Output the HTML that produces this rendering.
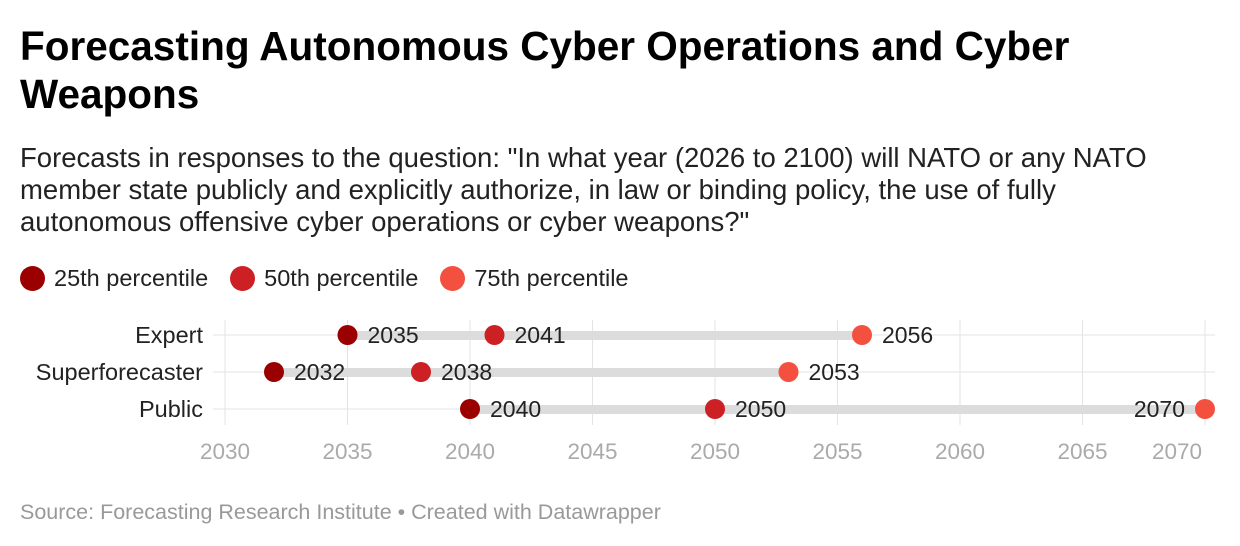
<!DOCTYPE html>
<html><head><meta charset="utf-8"><style>
body{margin:0;width:1240px;height:546px;background:#fff;font-family:"Liberation Sans",sans-serif;overflow:hidden;position:relative}
h1{position:absolute;left:20px;top:22px;margin:0;font-size:40.5px;line-height:48px;font-weight:bold;color:#000;width:1100px}
.sub{position:absolute;left:20px;top:142px;font-size:27.5px;line-height:32px;color:#222;white-space:nowrap}
.legend{position:absolute;left:20px;top:265px;font-size:23.5px;color:#222;display:flex;gap:22px}
.legend span{display:flex;align-items:center}
.legend i{display:inline-block;width:25px;height:25px;border-radius:50%;margin-right:9px}
.src{position:absolute;left:20px;top:500px;font-size:21.5px;color:#999}
svg{position:absolute;left:0;top:0}
</style></head><body>
<h1>Forecasting Autonomous Cyber Operations and Cyber Weapons</h1>
<div class="sub">Forecasts in responses to the question: "In what year (2026 to 2100) will NATO or any NATO<br>member state publicly and explicitly authorize, in law or binding policy, the use of fully<br>autonomous offensive cyber operations or cyber weapons?"</div>
<div class="legend">
<span><i style="background:#9a0000"></i>25th percentile</span>
<span><i style="background:#cc2024"></i>50th percentile</span>
<span><i style="background:#f4503f"></i>75th percentile</span>
</div>
<svg id="chart" width="1240" height="546"></svg>
<div class="src">Source: Forecasting Research Institute • Created with Datawrapper</div>
<script>
const categories=["Expert","Superforecaster","Public"];
const p25=[2035,2032,2040];
const p50=[2041,2038,2050];
const p75=[2056,2053,2070];
const ticks=[2030,2035,2040,2045,2050,2055,2060,2065,2070];
const NS="http://www.w3.org/2000/svg";
const svg=document.getElementById('chart');
const x=v=>225+(v-2030)*24.5;
const y=i=>335+i*37;
function mk(t,a,p){const e=document.createElementNS(NS,t);for(const k in a)e.setAttribute(k,a[k]);(p||svg).appendChild(e);return e;}
ticks.forEach((t,i)=>{
 const g=mk('line',{x1:x(t),x2:x(t),y1:320,y2:425,stroke:'#e3e3e3','stroke-width':1});
 
 
 const tx=mk('text',{x:i===ticks.length-1?x(t)-28:x(t),y:459,'text-anchor':'middle','font-size':22.5,fill:'#aaa','font-family':'Liberation Sans'});
 tx.textContent=t;
 
 
});
categories.forEach((c,i)=>{
 const yy=y(i);
 const h=mk('line',{x1:213,x2:1215,y1:yy,y2:yy,stroke:'#e3e3e3','stroke-width':1});
 
 
 const lb=mk('text',{x:203,y:yy+8,'text-anchor':'end','font-size':23.5,fill:'#222','font-family':'Liberation Sans'});
 lb.textContent=c;
 
 
 const bar=mk('rect',{x:x(p25[i]),y:yy-4,width:x(p75[i])-x(p25[i]),height:9,fill:'#dcdcdc'});
 
 
 [[p25,'#9a0000'],[p50,'#cc2024'],[p75,'#f4503f']].forEach(([arr,col],k)=>{
  const d=mk('circle',{cx:x(arr[i]),cy:yy,r:10,fill:col});
  
  
  const last=k===2&&x(arr[i])>1150;
  const t=mk('text',{x:last?x(arr[i])-20:x(arr[i])+20,y:yy+8,'text-anchor':last?'end':'start','font-size':23,fill:'#222','font-family':'Liberation Sans'});
  t.textContent=arr[i];
  
  
 });
});
</script>
</body></html>
